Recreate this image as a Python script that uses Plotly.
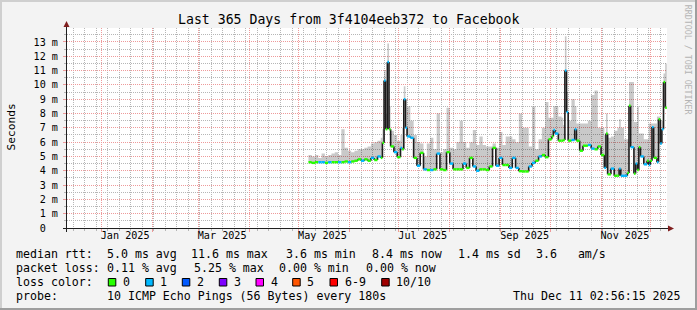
import numpy as np
import pandas as pd
import plotly.graph_objects as go

# ---------------- data ----------------
dates = [
    "2025-05-07", "2025-05-09", "2025-05-11", "2025-05-13", "2025-05-15", "2025-05-17", "2025-05-19",
    "2025-05-21", "2025-05-23", "2025-05-25", "2025-05-27", "2025-05-29", "2025-05-31", "2025-06-02",
    "2025-06-04", "2025-06-06", "2025-06-08", "2025-06-10", "2025-06-12", "2025-06-14", "2025-06-16",
    "2025-06-18", "2025-06-20", "2025-06-21", "2025-06-22", "2025-06-23", "2025-06-24", "2025-06-25",
    "2025-06-26", "2025-06-28", "2025-06-30", "2025-07-02", "2025-07-03", "2025-07-04", "2025-07-05",
    "2025-07-06", "2025-07-08", "2025-07-10", "2025-07-12", "2025-07-14", "2025-07-16", "2025-07-18",
    "2025-07-20", "2025-07-22", "2025-07-24", "2025-07-26", "2025-07-28", "2025-07-30", "2025-08-01",
    "2025-08-03", "2025-08-05", "2025-08-07", "2025-08-09", "2025-08-11", "2025-08-13", "2025-08-15",
    "2025-08-17", "2025-08-19", "2025-08-21", "2025-08-23", "2025-08-25", "2025-08-27", "2025-08-29",
    "2025-08-31", "2025-09-02", "2025-09-04", "2025-09-06", "2025-09-08", "2025-09-10", "2025-09-12",
    "2025-09-14", "2025-09-16", "2025-09-18", "2025-09-20", "2025-09-22", "2025-09-24", "2025-09-26",
    "2025-09-28", "2025-09-30", "2025-10-02", "2025-10-03", "2025-10-04", "2025-10-06", "2025-10-08",
    "2025-10-09", "2025-10-10", "2025-10-11", "2025-10-12", "2025-10-14", "2025-10-16", "2025-10-17",
    "2025-10-19", "2025-10-21", "2025-10-24", "2025-10-26", "2025-10-28", "2025-10-30", "2025-11-01",
    "2025-11-03", "2025-11-04", "2025-11-05", "2025-11-07", "2025-11-09", "2025-11-11", "2025-11-12",
    "2025-11-13", "2025-11-15", "2025-11-17", "2025-11-18", "2025-11-19", "2025-11-21", "2025-11-22",
    "2025-11-23", "2025-11-24", "2025-11-25", "2025-11-27", "2025-11-29", "2025-11-30", "2025-12-01",
    "2025-12-02", "2025-12-03", "2025-12-05", "2025-12-06", "2025-12-07", "2025-12-08", "2025-12-09",
    "2025-12-10",
]
median_ms = [
    4.6, 4.55, 4.6, 4.6, 4.6, 4.55, 4.6,
    4.6, 4.6, 4.6, 4.6, 4.65, 4.6, 4.65,
    4.7, 4.8, 4.7, 4.8, 4.7, 4.9, 4.75,
    5.0, 4.9, 5.95, 10.3, 6.9, 11.6, 6.9,
    5.7, 5.3, 4.95, 5.6, 5.5, 9.0, 7.0,
    6.4, 6.3, 4.9, 4.35, 5.25, 4.1, 4.05,
    4.05, 4.1, 5.2, 4.1, 4.05, 5.3, 4.5,
    4.1, 4.1, 4.1, 4.5, 4.2, 4.9, 4.3,
    4.0, 4.1, 4.1, 4.05, 4.3, 5.6, 4.35,
    4.9, 4.4, 4.4, 4.2, 4.9, 4.2, 3.97,
    3.95, 3.95, 4.3, 4.55, 4.7, 5.0, 5.1,
    4.95, 6.2, 6.4, 6.85, 6.6, 6.1, 6.1,
    6.15, 11.0, 8.1, 6.1, 6.15, 6.9, 6.1,
    5.4, 5.75, 5.8, 5.55, 5.5, 5.7, 5.1,
    4.2, 6.6, 3.75, 4.15, 3.65, 3.65, 4.15,
    3.65, 3.65, 3.85, 8.55, 5.65, 3.8, 4.5,
    4.05, 5.65, 5.0, 4.45, 4.7, 4.4, 4.7,
    7.05, 4.9, 4.6, 7.6, 5.9, 6.9, 10.2,
    8.4,
]
smoke_hi_ms = [
    5.1, 5.0, 5.1, 4.9, 5.2, 5.0, 5.1,
    5.2, 5.3, 5.1, 6.9, 5.6, 5.4, 5.3,
    5.4, 5.5, 5.5, 5.6, 5.7, 5.9, 6.0,
    6.1, 6.3, 6.9, 11.0, 8.0, 12.9, 8.5,
    6.8, 6.5, 6.1, 6.5, 7.0, 9.9, 9.0,
    8.5, 7.5, 6.5, 6.0, 5.9, 5.0, 5.9,
    6.3, 5.5, 8.0, 5.3, 5.5, 8.4, 5.6,
    5.5, 6.0, 7.5, 6.0, 5.6, 6.0, 6.85,
    5.8, 6.4, 5.8, 5.7, 5.7, 5.9, 5.6,
    6.7, 5.8, 6.4, 6.4, 6.2, 6.0, 8.0,
    7.0, 7.0, 5.7, 8.5, 5.5, 6.2, 7.0,
    8.8, 7.7, 7.7, 8.5, 8.5, 7.8, 7.7,
    7.2, 13.4, 9.5, 7.5, 9.0, 8.5, 7.3,
    7.3, 7.3, 7.5, 9.3, 9.6, 7.0, 7.0,
    6.5, 8.0, 6.3, 6.4, 6.8, 7.0, 7.6,
    7.0, 6.2, 6.2, 10.2, 10.2, 7.4, 7.4,
    8.5, 6.6, 6.6, 6.2, 6.2, 7.3, 7.3,
    7.3, 7.3, 7.8, 7.8, 7.5, 7.5, 10.8,
    11.5,
]
lost_pings = [
    0, 0, 0, 1, 1, 0, 1,
    0, 0, 1, 0, 0, 1, 0,
    0, 0, 1, 0, 0, 1, 0,
    1, 0, 0, 1, 0, 1, 0,
    0, 1, 0, 1, 0, 1, 1,
    1, 1, 0, 1, 0, 1, 0,
    1, 0, 1, 0, 0, 0, 1,
    0, 0, 0, 1, 0, 0, 1,
    1, 0, 0, 0, 0, 0, 1,
    1, 0, 0, 1, 1, 1, 0,
    0, 0, 1, 1, 0, 1, 0,
    0, 0, 0, 1, 1, 0, 0,
    0, 1, 1, 0, 1, 1, 0,
    0, 0, 1, 1, 0, 0, 0,
    1, 0, 0, 1, 0, 0, 1,
    1, 1, 0, 0, 1, 0, 1,
    0, 0, 1, 1, 0, 1, 0,
    1, 0, 1, 0, 1, 1, 0,
    0,
]

loss_labels = ["0", "1", "2", "3", "4", "5", "6-9", "10/10"]
loss_colors = ["#26ff00", "#00b8ff", "#0059ff", "#7e00ff", "#ff00ff", "#ff5500", "#ff0000", "#a00000"]

y_tick_ms = list(range(14))
y_tick_text = ["0\u00a0\u00a0"] + [f"{i} m" for i in range(1, 14)]
x_label_dates = ["2025-01-15 12:00", "2025-03-15 12:00", "2025-05-15 12:00",
                 "2025-07-15 12:00", "2025-09-15 12:00", "2025-11-15 12:00"]
x_label_text = ["Jan 2025", "Mar 2025", "May 2025", "Jul 2025", "Sep 2025", "Nov 2025"]

title = "Last 365 Days from 3f4104eeb372 to Facebook"
stats_rtt = ["median rtt:", "5.0 ms avg", "11.6 ms max", "3.6 ms min", "8.4 ms now", "1.4 ms sd", "3.6   am/s"]
stats_loss = ["packet loss:", "0.11 % avg", "5.25 % max", "0.00 % min", "0.00 % now"]
probe_text = ["probe:", "10 ICMP Echo Pings (56 Bytes) every 180s", "Thu Dec 11 02:56:15 2025"]

# ---------------- geometry / style ----------------
W, H = 697, 310
L, R, T, B = 67, 30, 28, 82
PW, PH = W - L - R, H - T - B
MONO = "DejaVu Sans Mono"
t_start = pd.Timestamp("2024-12-11 02:56:15")
t_end = pd.Timestamp("2025-12-11 02:56:15")
Y_TOP = 0.013976


def px(x):
    return (x - L) / PW


def py(y):
    return (T + PH - y) / PH


t = list(pd.to_datetime(dates))
t_next = t[1:] + [t[-1] + pd.Timedelta(days=1)]
med = [v / 1000 for v in median_ms]
hi = [v / 1000 for v in smoke_hi_ms]

fig = go.Figure()

# smoke (light grey band)
fig.add_trace(go.Scatter(x=t + [t_next[-1]], y=med + [med[-1]], mode="lines",
                         line=dict(width=0, shape="hv"), hoverinfo="skip", showlegend=False))
fig.add_trace(go.Scatter(x=t + [t_next[-1]], y=hi + [hi[-1]], mode="lines", fill="tonexty",
                         fillcolor="rgba(0,0,0,0.21)", line=dict(width=0, shape="hv"),
                         hoverinfo="skip", showlegend=False))

# black vertical jumps of the median
vx, vy = [], []
for i in range(1, len(t)):
    vx += [t[i], t[i], None]
    vy += [med[i - 1], med[i], None]
fig.add_trace(go.Scatter(x=vx, y=vy, mode="lines", line=dict(color="#1c1c1c", width=1.6),
                         hoverinfo="skip", showlegend=False))

# median segments coloured by loss
for c in sorted(set(lost_pings)):
    sx, sy = [], []
    for i in range(len(t)):
        if lost_pings[i] == c:
            sx += [t[i], t_next[i], None]
            sy += [med[i], med[i], None]
    fig.add_trace(go.Scatter(x=sx, y=sy, mode="lines", line=dict(color=loss_colors[c], width=2.4),
                             hoverinfo="skip", showlegend=False))

# invisible helper traces so the overlay axes (major grid / labels) exist
fig.add_trace(go.Scatter(x=[t[0]], y=[med[0]], xaxis="x2", yaxis="y2", mode="markers",
                         marker=dict(opacity=0), hoverinfo="skip", showlegend=False))
fig.add_trace(go.Scatter(x=pd.to_datetime(x_label_dates), y=[0] * len(x_label_dates), xaxis="x3",
                         mode="markers", marker=dict(opacity=0), hoverinfo="skip", showlegend=False))

RED = "#ee9a9a"
GRAY = "#b6b6b6"
WEEK_MS = 7 * 24 * 3600 * 1000
month_starts = pd.date_range("2025-01-01", "2025-12-01", freq="MS")

common = dict(zeroline=False, showline=False)
fig.update_layout(
    width=W, height=H, autosize=False,
    margin=dict(l=L, r=R, t=T, b=B, pad=0),
    paper_bgcolor="#f3f3f3", plot_bgcolor="#ffffff",
    showlegend=False,
    # weekly minor grid
    xaxis=dict(type="date", range=[t_start, t_end], tickmode="linear", tick0="2024-12-15", dtick=WEEK_MS,
               showticklabels=False, showgrid=True, gridcolor=GRAY, griddash="1px,1px", gridwidth=1,
               ticks="outside", ticklen=2, tickcolor=GRAY, **common),
    # monthly major grid
    xaxis2=dict(type="date", range=[t_start, t_end], overlaying="x", anchor="y", side="bottom",
                tickmode="array", tickvals=month_starts, showticklabels=False,
                showgrid=True, gridcolor=RED, griddash="1px,1px", gridwidth=1,
                ticks="outside", ticklen=3, tickcolor=RED, **common),
    # month labels
    xaxis3=dict(type="date", range=[t_start, t_end], overlaying="x", anchor="y", side="bottom",
                tickmode="array", tickvals=pd.to_datetime(x_label_dates), ticktext=x_label_text,
                showgrid=False, ticks="", tickfont=dict(family=MONO, size=10.15, color="#000000"), **common),
    # half-unit minor grid
    yaxis=dict(range=[0, Y_TOP], tickmode="linear", tick0=0, dtick=0.0005, showticklabels=False,
               showgrid=True, gridcolor=GRAY, griddash="1px,1px", gridwidth=1,
               ticks="outside", ticklen=2, tickcolor=GRAY, **common),
    # unit major grid with labels
    yaxis2=dict(range=[0, Y_TOP], overlaying="y", anchor="x", side="left", tickmode="array",
                tickvals=[v / 1000 for v in y_tick_ms], ticktext=y_tick_text,
                showgrid=True, gridcolor=RED, griddash="1px,1px", gridwidth=1,
                ticks="outside", ticklen=3, tickcolor=RED, ticklabelstandoff=3,
                tickfont=dict(family=MONO, size=10.15, color="#000000"), **common),
)

shapes = []
# frame
shapes.append(dict(type="rect", xref="paper", yref="paper", x0=px(0), x1=px(W), y0=py(0), y1=py(2),
                   fillcolor="#cfcfcf", line=dict(width=0), layer="below"))
shapes.append(dict(type="rect", xref="paper", yref="paper", x0=px(0), x1=px(2), y0=py(0), y1=py(H),
                   fillcolor="#cfcfcf", line=dict(width=0), layer="below"))
shapes.append(dict(type="rect", xref="paper", yref="paper", x0=px(0), x1=px(W), y0=py(H - 2), y1=py(H),
                   fillcolor="#9e9e9e", line=dict(width=0), layer="below"))
shapes.append(dict(type="rect", xref="paper", yref="paper", x0=px(W - 2), x1=px(W), y0=py(0), y1=py(H),
                   fillcolor="#9e9e9e", line=dict(width=0), layer="below"))
# axes
shapes.append(dict(type="line", xref="paper", yref="paper", x0=px(63), x1=px(669), y0=py(228.5), y1=py(228.5),
                   line=dict(color="#1f1f1f", width=1)))
shapes.append(dict(type="line", xref="paper", yref="paper", x0=px(66.5), x1=px(66.5), y0=py(232), y1=py(26),
                   line=dict(color="#1f1f1f", width=1)))
# arrows
shapes.append(dict(type="path", xref="paper", yref="paper",
                   path=f"M {px(674)} {py(228.5)} L {px(668)} {py(225.5)} L {px(668)} {py(231.5)} Z",
                   fillcolor="#801f1f", line=dict(width=0)))
shapes.append(dict(type="path", xref="paper", yref="paper",
                   path=f"M {px(66.5)} {py(21)} L {px(63.5)} {py(27)} L {px(69.5)} {py(27)} Z",
                   fillcolor="#801f1f", line=dict(width=0)))
# loss colour boxes
box_x = [108.3, 145.7, 182.3, 219.3, 256.0, 292.7, 330.0, 381.7]
for bx, col in zip(box_x, loss_colors):
    shapes.append(dict(type="rect", xref="paper", yref="paper", x0=px(bx), x1=px(bx + 7.5),
                       y0=py(286), y1=py(278.5), fillcolor=col, line=dict(color="#000000", width=1)))
fig.update_layout(shapes=shapes)

ann = []
OFF = 2.5


def text_at(s, x, y, size=11.6, color="#000000", anchor="left"):
    ann.append(dict(text=s, xref="paper", yref="paper", x=px(x - OFF if anchor == "left" else x), y=py(y),
                    xanchor=anchor, yanchor="middle", showarrow=False,
                    font=dict(family=MONO, size=size, color=color)))


text_at(title, W / 2, 19, size=13.2, anchor="center")
ann.append(dict(text="Seconds", xref="paper", yref="paper", x=px(10.5), y=py(127), textangle=-90,
                xanchor="center", yanchor="middle", showarrow=False,
                font=dict(family=MONO, size=11.2, color="#000000")))
ann.append(dict(text="RRDTOOL / TOBI OETIKER", xref="paper", yref="paper", x=px(688.3), y=py(60), textangle=90,
                xanchor="center", yanchor="middle", showarrow=False,
                font=dict(family=MONO, size=8.3, color="#b4b4b4")))

rtt_x = [16, 107.3, 191.7, 286, 372.3, 458.3, 536.7]
for s, x in zip(stats_rtt, rtt_x):
    text_at(s, x, 254)
loss_x = [16, 107.3, 194, 279.3, 366]
for s, x in zip(stats_loss, loss_x):
    text_at(s, x, 268.3)
text_at("loss color:", 16, 282.3)
for lab, bx in zip(loss_labels, box_x):
    text_at(lab, bx + 15, 282.3)
probe_x = [16, 107.3, 513.3]
for s, x in zip(probe_text, probe_x):
    text_at(s, x, 296)

fig.update_layout(annotations=ann)
fig.write_html("out.html", config={"displayModeBar": False})
